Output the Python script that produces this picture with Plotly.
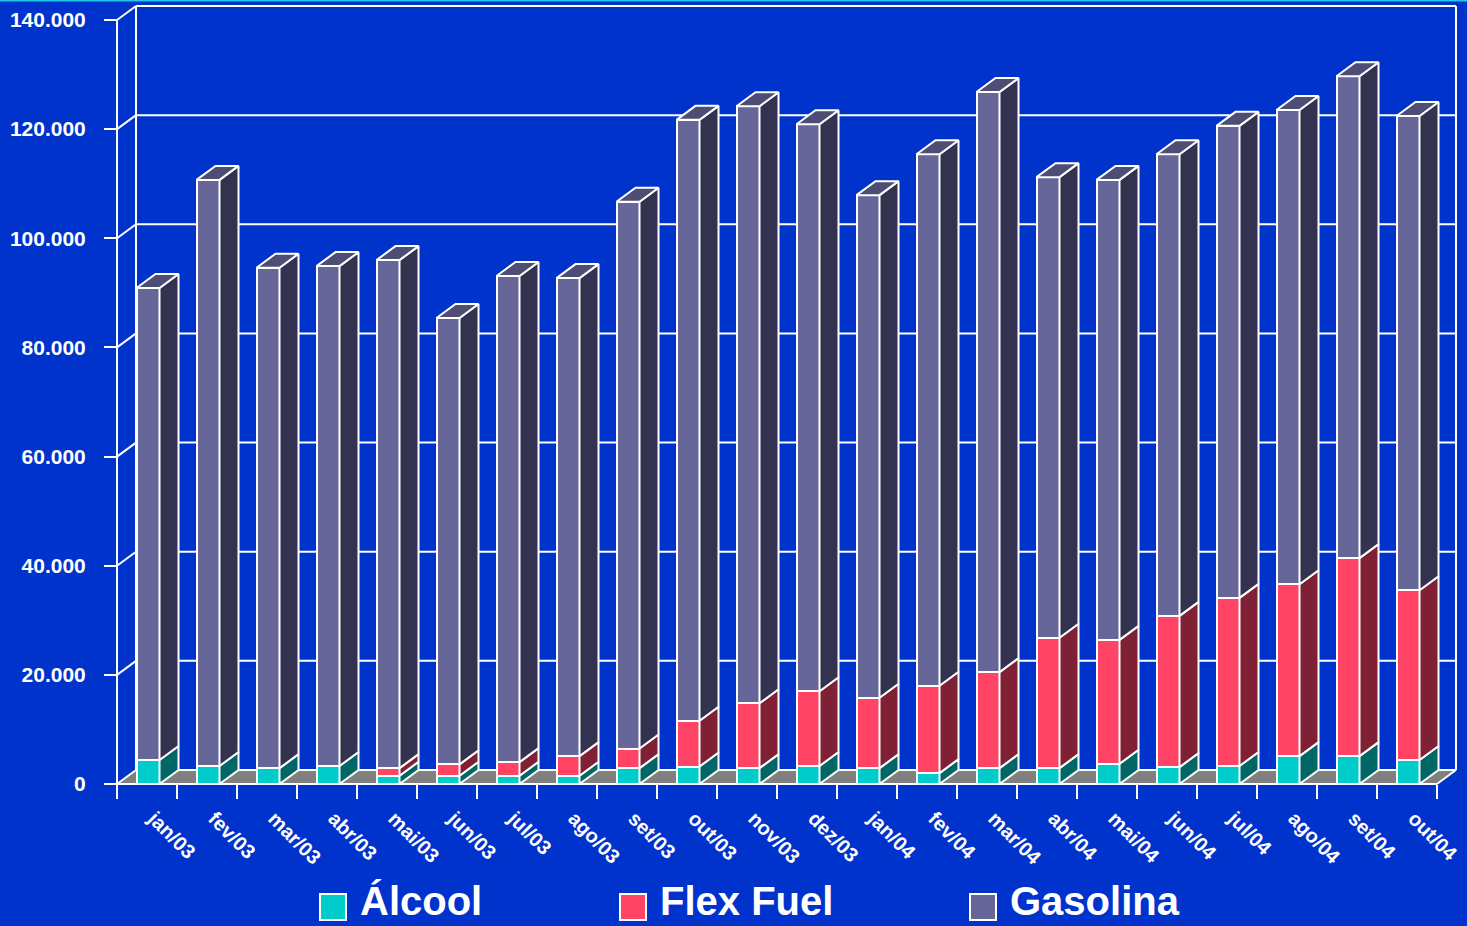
import plotly.graph_objects as go

# ---------------- data ----------------
categories = ["jan/03", "fev/03", "mar/03", "abr/03", "mai/03", "jun/03", "jul/03", "ago/03",
              "set/03", "out/03", "nov/03", "dez/03", "jan/04", "fev/04", "mar/04", "abr/04",
              "mai/04", "jun/04", "jul/04", "ago/04", "set/04", "out/04"]
alcool = [4400, 3300, 2900, 3300, 1500, 1500, 1500, 1500, 2900, 3200, 2900, 3300,
          2900, 2000, 2900, 2900, 3700, 3100, 3300, 5100, 5100, 4400]
flex_fuel = [0, 0, 0, 0, 1400, 2100, 2500, 3600, 3600, 8400, 11900, 13700,
             12900, 16000, 17600, 23900, 22700, 27700, 30800, 31500, 36300, 31100]
gasolina = [86500, 107400, 91700, 91600, 93100, 81800, 89100, 87600, 100200, 110100, 109400, 103900,
            92100, 97400, 106300, 84400, 84300, 84600, 86500, 86900, 88300, 86900]
y_tick_values = [0, 20000, 40000, 60000, 80000, 100000, 120000, 140000]
y_tick_labels = ["0", "20.000", "40.000", "60.000", "80.000", "100.000", "120.000", "140.000"]
series_names = ["Álcool", "Flex Fuel", "Gasolina"]

# ---------------- styling / geometry ----------------
BG = "#0033CC"
FRONT = ["#00CCCC", "#FF4466", "#666699"]
SIDE = ["#006666", "#802035", "#333350"]
TOP = "#4D4D75"
FLOOR = "#808080"
FONT = "Liberation Sans"

W_PX, H_PX = 1467, 926
ML, MR, MT, MB = 110, 5, 3, 136
PLOT_W = W_PX - ML - MR
PLOT_H = H_PX - MT - MB
PX_PER_CAT = 60.0
PX_PER_VAL = 764.0 / 140000.0
X0 = -0.5 - (117 - ML) / PX_PER_CAT
X1 = X0 + PLOT_W / PX_PER_CAT
Y0 = -(790 - 784) / PX_PER_VAL
Y1 = Y0 + PLOT_H / PX_PER_VAL
DXU = 19 / PX_PER_CAT
DYV = 14 / PX_PER_VAL
BAR_W = 23 / PX_PER_CAT
SHIFT = 1 / PX_PER_CAT
LABEL_SHIFT = 6 / PX_PER_CAT
N = len(categories)
YMAX = y_tick_values[-1]


def pxx(px):
    return (px - ML) / PLOT_W


def pxy(py):
    return (H_PX - MB - py) / PLOT_H


fig = go.Figure()

# ---------------- front faces (stacked bars) ----------------
series = [alcool, flex_fuel, gasolina]
xs = [i + SHIFT for i in range(N)]
for k, vals in enumerate(series):
    fig.add_trace(go.Bar(
        x=xs, y=[v if v else None for v in vals], width=BAR_W,
        name=series_names[k], marker=dict(color=FRONT[k], line=dict(color="white", width=2)),
        showlegend=False, hoverinfo="skip"))

# ---------------- side and top faces ----------------
for k, vals in enumerate(series):
    px_, py_ = [], []
    for i in range(N):
        b = sum(series[j][i] for j in range(k))
        t = b + vals[i]
        if vals[i] <= 0:
            continue
        xr = xs[i] + BAR_W / 2
        px_ += [xr, xr + DXU, xr + DXU, xr, xr, None]
        py_ += [b, b + DYV, t + DYV, t, b, None]
    fig.add_trace(go.Scatter(x=px_, y=py_, mode="lines", fill="toself", fillcolor=SIDE[k],
                             line=dict(color="white", width=2), showlegend=False, hoverinfo="skip"))

tx, ty = [], []
for i in range(N):
    t = alcool[i] + flex_fuel[i] + gasolina[i]
    xr = xs[i] + BAR_W / 2
    xl = xr - BAR_W
    tx += [xl, xr, xr + DXU, xl + DXU, xl, None]
    ty += [t, t, t + DYV, t + DYV, t, None]
fig.add_trace(go.Scatter(x=tx, y=ty, mode="lines", fill="toself", fillcolor=TOP,
                         line=dict(color="white", width=2), showlegend=False, hoverinfo="skip"))

# dummy trace for label axis
fig.add_trace(go.Scatter(x=[None], y=[None], xaxis="x2", showlegend=False, hoverinfo="skip"))

# ---------------- walls / floor / grid ----------------
shapes = []
xa, xb = -0.5, N - 0.5
shapes.append(dict(type="path", layer="below", xref="x", yref="y",
                   path=f"M {xa},0 L {xb},0 L {xb + DXU},{DYV} L {xa + DXU},{DYV} Z",
                   fillcolor=FLOOR, line=dict(width=0)))
line_w = dict(color="white", width=2)
for v in y_tick_values:
    shapes.append(dict(type="line", layer="below", xref="x", yref="y",
                       x0=xa + DXU, x1=xb + DXU, y0=v + DYV, y1=v + DYV, line=line_w))
    shapes.append(dict(type="line", layer="below", xref="x", yref="y",
                       x0=xa, x1=xa + DXU, y0=v, y1=v + DYV, line=line_w))
shapes.append(dict(type="line", layer="below", xref="x", yref="y",
                   x0=xa + DXU, x1=xa + DXU, y0=DYV, y1=YMAX + DYV, line=line_w))
shapes.append(dict(type="line", layer="below", xref="x", yref="y",
                   x0=xb + DXU, x1=xb + DXU, y0=DYV, y1=YMAX + DYV, line=line_w))
shapes.append(dict(type="line", layer="below", xref="x", yref="y",
                   x0=xb, x1=xb + DXU, y0=0, y1=DYV, line=line_w))
shapes.append(dict(type="line", layer="below", xref="x", yref="y",
                   x0=xa, x1=xa, y0=0, y1=YMAX, line=line_w))
shapes.append(dict(type="line", layer="below", xref="x", yref="y",
                   x0=xa, x1=xb, y0=0, y1=0, line=line_w))
# thin cyan border at the very top of the slide
shapes.append(dict(type="line", xref="paper", yref="paper", x0=pxx(0), x1=pxx(W_PX),
                   y0=pxy(0.5), y1=pxy(0.5), line=dict(color="#22C8E8", width=2)))

# ---------------- legend (manual, large) ----------------
legend_sq_x = [320, 620, 970]
annotations = []
for k in range(3):
    x0p = legend_sq_x[k]
    shapes.append(dict(type="rect", xref="paper", yref="paper",
                       x0=pxx(x0p), x1=pxx(x0p + 26), y0=pxy(920), y1=pxy(894),
                       fillcolor=FRONT[k], line=dict(color="white", width=2)))
    annotations.append(dict(xref="paper", yref="paper", x=pxx(x0p + 38), y=pxy(901),
                            xanchor="left", yanchor="middle", showarrow=False,
                            text=series_names[k],
                            font=dict(family=FONT, size=40, color="white", weight="bold")))

fig.update_layout(
    width=W_PX, height=H_PX,
    margin=dict(l=ML, r=MR, t=MT, b=MB, pad=0),
    paper_bgcolor=BG, plot_bgcolor=BG,
    barmode="stack", bargap=0,
    shapes=shapes, annotations=annotations,
    showlegend=False,
    xaxis=dict(range=[X0, X1], anchor="free", position=pxy(784),
               tickmode="array", tickvals=[i - 0.5 for i in range(N + 1)],
               showticklabels=False, ticks="outside", ticklen=14, tickwidth=2, tickcolor="white",
               showgrid=False, zeroline=False, showline=False, fixedrange=True),
    xaxis2=dict(range=[X0, X1], overlaying="x", anchor="free", position=pxy(784), side="bottom",
                tickmode="array", tickvals=[x + LABEL_SHIFT for x in xs], ticktext=categories,
                tickangle=45, ticks="", ticklabelstandoff=18, ticklabeloverflow="allow",
                tickfont=dict(family=FONT, size=20, color="white", weight="bold"),
                showgrid=False, zeroline=False, showline=False, fixedrange=True),
    yaxis=dict(range=[Y0, Y1], anchor="free", position=pxx(117),
               tickmode="array", tickvals=y_tick_values, ticktext=y_tick_labels,
               ticks="outside", ticklen=13, tickwidth=2, tickcolor="white", ticklabelstandoff=14,
               tickfont=dict(family=FONT, size=21, color="white", weight="bold"),
               showgrid=False, zeroline=False, showline=False, fixedrange=True),
)

fig.write_html("out.html")
